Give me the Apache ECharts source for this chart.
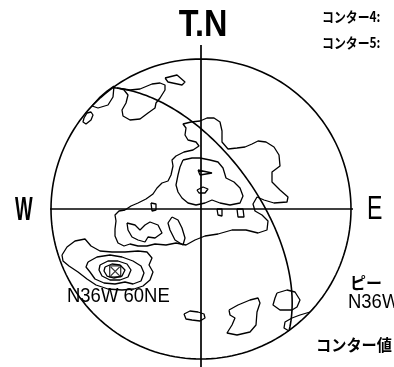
<!DOCTYPE html>
<html>
<head>
<meta charset="utf-8">
<script src="https://cdn.jsdelivr.net/npm/echarts@6/dist/echarts.min.js"></script>
<style>
html, body { margin: 0; padding: 0; background: #fff; }
#net { width: 394px; height: 367px; }
</style>
</head>
<body>
<div id="net"></div>
<script>
// Schmidt net, radius R in plot units (x = east, y = north)
var R = 150;
var planeStrike = 324; // N36W
var planeDip = 60;     // 60NE
var peakLabel = 'N36W 60NE';

// contour lines
var rimLobe = [[-87,123],[-88,112],[-93,104],[-103,101],[-109,103],[-101,112],[-94,118]];
var nwPatch = [[-84,121],[-71,119],[-61,120],[-49,125],[-41,126],[-36,124],[-36,119],[-41,111],[-45,106],[-46,101],[-53,96],[-61,90],[-71,89],[-78,93],[-79,99],[-75,106],[-73,114],[-77,119]];
var nwOval = [[-117,91],[-114,96],[-110,97],[-108,94],[-110,89],[-115,85],[-118,87]];
var nwChip = [[-36,131],[-24,134],[-16,127],[-19,124],[-33,127]];
var mainBody = [[-76,-1],[-70,3],[-63,6],[-55,10],[-48,15],[-44,21],[-39,26],[-33,28],[-30,34],[-28,43],[-29,49],[-25,53],[-17,57],
  [-8,59],[-2,63],[-5,67],[-13,69],[-16,74],[-15,81],[-18,85],[-10,87],[-1,88],[6,91],[13,91],[19,87],[21,78],[21,67],
  [27,60],[36,61],[44,62],[51,65],[57,68],[65,67],[73,62],[78,54],[79,43],[71,37],[71,27],[79,19],[87,12],[86,7],[73,6],
  [63,9],[56,12],[52,5],[54,-2],[61,-6],[67,-12],[66,-21],[57,-24],[45,-21],[31,-21],[17,-25],[4,-27],[-6,-31],[-15,-36],
  [-25,-34],[-35,-36],[-46,-35],[-54,-37],[-63,-37],[-71,-35],[-77,-37],[-83,-34],[-86,-27],[-86,-20],[-85,-12],[-86,-6],[-82,-2]];
var innerBody = [[-18,49],[-9,51],[-1,51],[9,49],[17,47],[22,41],[25,31],[33,27],[39,21],[42,13],[39,6],[29,4],[19,6],[11,9],[4,6],[-5,4],[-13,6],[-19,11],[-23,17],[-25,24],[-23,34],[-21,42]];
var innerTri = [[-3,39],[11,36],[-1,34]];
var innerOval = [[-4,19],[2,22],[7,20],[4,16],[-2,16]];
var bumpA = [[16,0],[17,-6],[21,-7],[21,0]];
var bumpB = [[36,0],[37,-8],[43,-8],[42,0]];
var bumpW = [[-50,6],[-45,5],[-45,-1],[-49,-2]];
var handHole = [[-74,-14],[-66,-16],[-61,-21],[-56,-16],[-51,-13],[-43,-16],[-39,-24],[-46,-29],[-53,-28],[-56,-33],[-63,-31],[-69,-28],[-73,-21]];
var tongue = [[-29,-8],[-33,-14],[-31,-21],[-26,-31],[-18,-36],[-16,-29],[-19,-19],[-23,-11]];
var peakRing1 = [[-139,-46],[-134,-38],[-126,-32],[-116,-30],[-110,-37],[-101,-42],[-89,-43],[-76,-43],[-63,-42],[-54,-43],[-49,-49],[-52,-56],[-48,-63],[-51,-71],[-58,-77],[-67,-80],[-79,-81],[-93,-80],[-105,-76],[-114,-70],[-123,-63],[-132,-57],[-138,-52]];
var peakRing2 = [[-113,-53],[-104,-48],[-91,-46],[-79,-48],[-68,-52],[-60,-57],[-57,-64],[-60,-72],[-68,-75],[-76,-73],[-86,-75],[-97,-74],[-106,-70],[-111,-63],[-115,-58]];
var peakRing3 = [[-101,-56],[-93,-52],[-83,-52],[-74,-55],[-70,-61],[-73,-68],[-81,-71],[-91,-71],[-99,-67],[-102,-61]];
var peakRing4 = [[-96,-58],[-89,-55],[-81,-56],[-76,-61],[-79,-67],[-87,-69],[-94,-67],[-97,-62]];
var southBlob = [[-17,-105],[-11,-102],[-3,-103],[3,-105],[4,-109],[-1,-112],[-9,-111],[-15,-110]];
var seBlob = [[28,-101],[37,-96],[49,-91],[57,-89],[59,-94],[56,-103],[55,-116],[49,-123],[36,-126],[26,-124],[31,-116],[34,-109],[29,-106]];
var seBlob2 = [[76,-84],[86,-81],[94,-83],[99,-91],[96,-98],[91,-101],[79,-101],[72,-96],[74,-89]];
var seEdge = [[109,-103],[99,-106],[91,-109],[84,-113],[83,-119],[88,-122]];

var closedContours = [rimLobe, nwPatch, nwOval, nwChip, mainBody, innerBody, innerTri, innerOval,
  bumpA, bumpB, bumpW, handHole, tongue, peakRing1, peakRing2, peakRing3, peakRing4, southBlob, seBlob, seBlob2];
var openContours = [seEdge];

var rad = Math.PI / 180;

// lower-hemisphere equal-area projection of a unit vector (east, north, down)
function project(e, n, d) {
    var k = R / Math.sqrt(1 + d);
    return [e * k, n * k];
}

// primitive circle
var primitive = [];
for (var a = 0; a <= 360; a += 2) {
    primitive.push([R * Math.sin(a * rad), R * Math.cos(a * rad)]);
}

// great circle of the plane
var dipDir = planeStrike + 90;
var s = [Math.sin(planeStrike * rad), Math.cos(planeStrike * rad), 0];
var dv = [Math.cos(planeDip * rad) * Math.sin(dipDir * rad), Math.cos(planeDip * rad) * Math.cos(dipDir * rad), Math.sin(planeDip * rad)];
var greatCircle = [];
for (var t = 0; t <= 180; t += 2) {
    var c = Math.cos(t * rad), sn = Math.sin(t * rad);
    greatCircle.push(project(c * s[0] + sn * dv[0], c * s[1] + sn * dv[1], c * s[2] + sn * dv[2]));
}

// pole of the plane
var poleTrend = dipDir + 180, polePlunge = 90 - planeDip;
var pole = project(Math.cos(polePlunge * rad) * Math.sin(poleTrend * rad),
                   Math.cos(polePlunge * rad) * Math.cos(poleTrend * rad),
                   Math.sin(polePlunge * rad));

function lineOf(pts, w) {
    return {
        type: 'line', data: pts, symbol: 'none', clip: false, silent: true,
        lineStyle: { color: '#000', width: w }
    };
}

var series = [
    lineOf(primitive, 1.6),
    lineOf([[0, 164], [0, -160]], 1.7),
    lineOf([[-166, 0], [166, 0]], 1.5),
    lineOf(greatCircle, 1.6)
];
closedContours.forEach(function (p) { series.push(lineOf(p.concat([p[0]]), 1.3)); });
openContours.forEach(function (p) { series.push(lineOf(p, 1.3)); });
series.push({
    type: 'scatter', data: [pole], symbol: 'rect', symbolSize: 11, silent: true,
    itemStyle: { color: 'transparent', borderColor: '#000', borderWidth: 1.3 }
});
series.push({
    type: 'scatter', data: [pole], symbol: 'path://M0,0L10,10M10,0L0,10', symbolSize: 9, silent: true,
    itemStyle: { color: 'transparent', borderColor: '#000', borderWidth: 1.3 }
});

var latin = "'Liberation Sans', sans-serif";
var jp = "'Noto Sans CJK JP', sans-serif";

function label(text, x, y, size, family, opts) {
    opts = opts || {};
    return {
        type: 'text', x: x, y: y, scaleX: opts.sx || 1, silent: true,
        style: {
            text: text, fontSize: size, fontFamily: family, fontWeight: opts.weight || 'normal',
            fill: '#000', textAlign: opts.align || 'left', textVerticalAlign: 'middle'
        }
    };
}

var myChart = echarts.init(document.getElementById('net'));
var option = {
    animation: false,
    grid: { left: 51, top: 59, width: 300, height: 300 },
    xAxis: { type: 'value', min: -R, max: R, show: false },
    yAxis: { type: 'value', min: -R, max: R, show: false },
    series: series,
    graphic: [
        label('T.N', 203, 26, 36, latin, { align: 'center', sx: 0.9, weight: 'bold' }),
        label('W', 15, 211, 34, latin, { sx: 0.55, weight: 'bold' }),
        label('E', 367, 210, 34, latin, { sx: 0.68 }),
        label(peakLabel, 67, 296, 21, latin, { sx: 0.88 }),
        label('ピー', 350, 283, 16, jp, { weight: 'bold' }),
        label('N36W60NE', 348, 302, 21, latin, { sx: 0.88 }),
        label('コンター値', 316, 345, 16, jp, { sx: 0.95, weight: 'bold' }),
        label('コンター4:', 322, 17, 14, jp, { weight: 'bold', sx: 0.85 }),
        label('コンター5:', 322, 43, 14, jp, { weight: 'bold', sx: 0.85 })
    ]
};
myChart.setOption(option);
</script>
</body>
</html>
